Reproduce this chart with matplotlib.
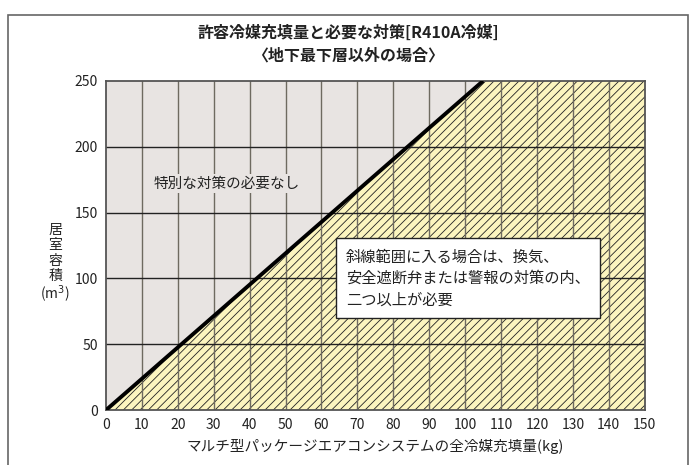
import matplotlib.pyplot as plt
from matplotlib.patches import Polygon, Rectangle

plt.rcParams['font.family'] = ['Noto Sans CJK JP', 'DejaVu Sans']
plt.rcParams['hatch.linewidth'] = 0.6

# データ
x_ticks = [0, 10, 20, 30, 40, 50, 60, 70, 80, 90, 100, 110, 120, 130, 140, 150]
y_ticks = [0, 50, 100, 150, 200, 250]
# 境界線 (全冷媒充填量 kg, 居室容積 m3)
limit_kg = [0, 105]
limit_m3 = [0, 250]

title = "許容冷媒充填量と必要な対策[R410A冷媒]\n〈地下最下層以外の場合〉"
x_label = "マルチ型パッケージエアコンシステムの全冷媒充填量(kg)"
y_label = "居\n室\n容\n積"
safe_text = "特別な対策の必要なし"
hatch_text = "斜線範囲に入る場合は、換気、\n安全遮断弁または警報の対策の内、\n二つ以上が必要"

fig = plt.figure(figsize=(6.97, 4.65), dpi=100)
ax = fig.add_axes([0.152, 0.118, 0.773, 0.708])

xmax, ymax = x_ticks[-1], y_ticks[-1]
ax.set_xlim(0, xmax)
ax.set_ylim(0, ymax)

# 領域
gray = Polygon([(limit_kg[0], limit_m3[0]), (limit_kg[1], limit_m3[1]), (0, ymax)],
               closed=True, facecolor='#e8e4e2', edgecolor='none', zorder=0)
yellow = Polygon([(limit_kg[0], limit_m3[0]), (xmax, 0), (xmax, ymax), (limit_kg[1], limit_m3[1])],
                 closed=True, facecolor='#fcf5bf', edgecolor='#222222', linewidth=0,
                 hatch='////', zorder=0)
ax.add_patch(gray)
ax.add_patch(yellow)

# グリッド
for xv in x_ticks[1:-1]:
    ax.axvline(xv, color='#6e6a60', linewidth=1.0, zorder=1)
for yv in y_ticks[1:-1]:
    ax.axhline(yv, color='#222222', linewidth=1.0, zorder=1)

ax.plot(limit_kg, limit_m3, color='black', linewidth=2.8, zorder=3, solid_capstyle='butt')

ax.set_xticks(x_ticks)
ax.set_yticks(y_ticks)
ax.tick_params(length=0, labelsize=10, pad=6, colors='#222222')
for s in ax.spines.values():
    s.set_color('#555555')
    s.set_linewidth(1.3)

ax.text(33.7, 172, safe_text, fontsize=10.5, ha='center', va='center', color='#222222',
        bbox=dict(facecolor='#e8e4e2', edgecolor='none', pad=2), zorder=4)
ax.text(66.8, 100, hatch_text, fontsize=11, ha='left', va='center', color='#222222',
        linespacing=1.35,
        bbox=dict(boxstyle='square,pad=0.65', facecolor='white', edgecolor='#222222',
                  linewidth=1.0), zorder=4)

fig.text(0.5, 0.905, title, fontsize=11.5, fontweight='bold', ha='center', va='center',
         linespacing=1.55, color='#222222')
ax.set_xlabel(x_label, fontsize=10.5, labelpad=5, color='#222222')
fig.text(0.079, 0.456, y_label, fontsize=10, ha='center', va='center', linespacing=1.1,
         color='#222222')
fig.text(0.079, 0.366, "(m$^3$)", fontsize=10, ha='center', va='center', color='#222222')

# 外枠
fig.add_artist(Rectangle((0.0115, -0.02), 0.976, 0.988, transform=fig.transFigure,
                         fill=False, edgecolor='#666666', linewidth=1.2))

fig.savefig('out.png', dpi=100)
